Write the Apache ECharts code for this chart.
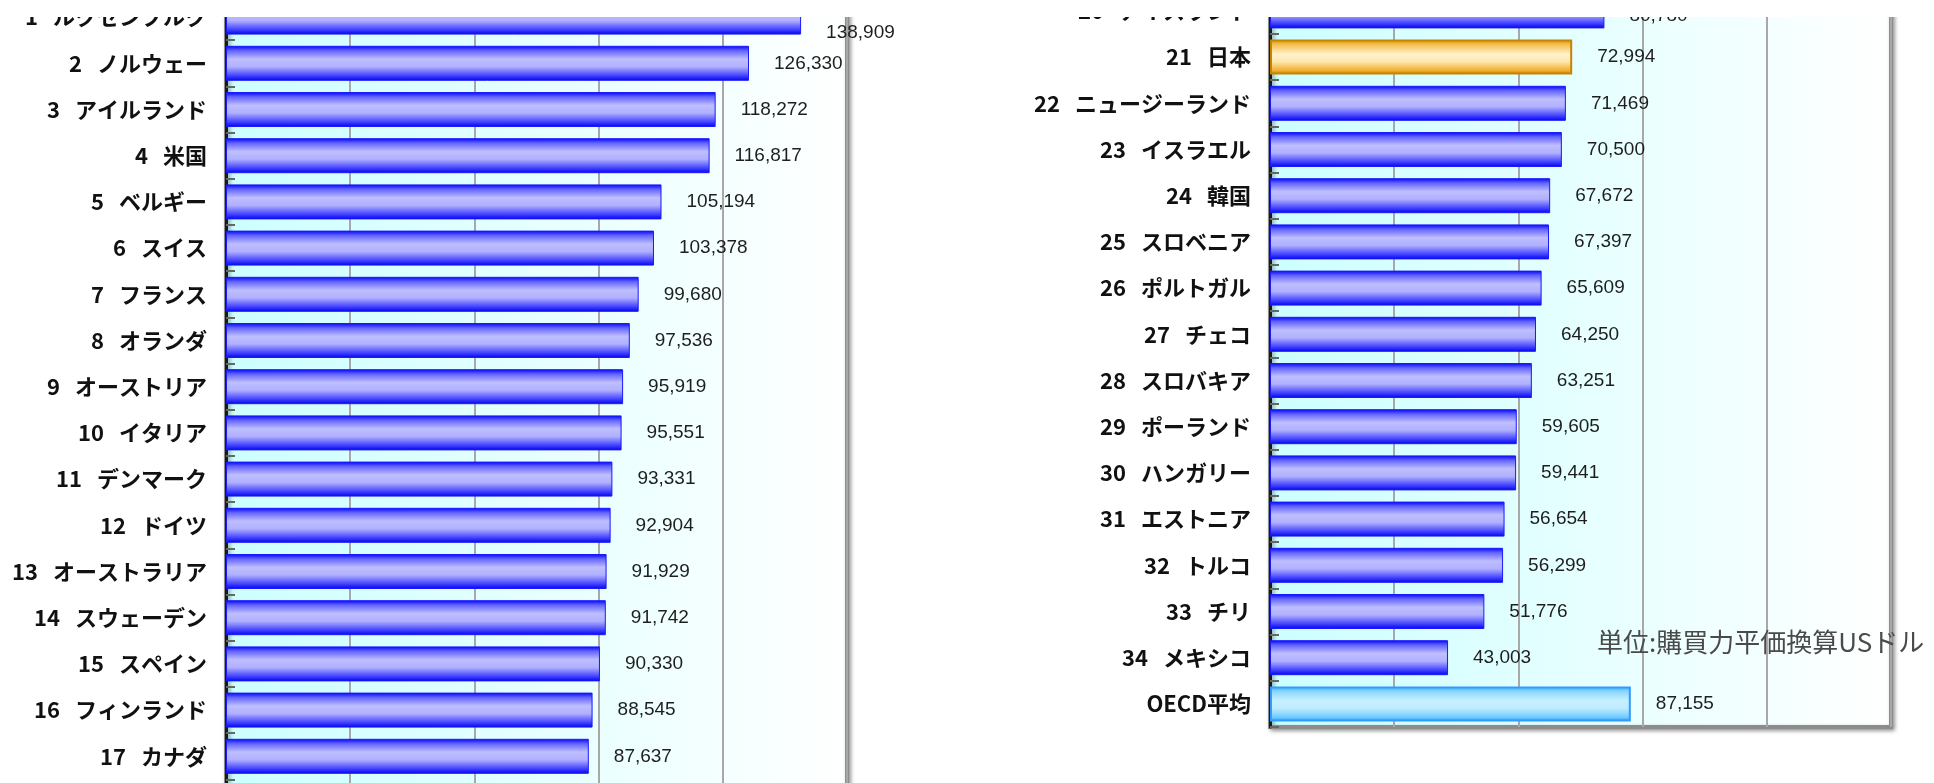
<!DOCTYPE html>
<html>
<head>
<meta charset="utf-8">
<script src="https://cdn.jsdelivr.net/npm/echarts@6/dist/echarts.min.js"></script>
<style>
  html, body { margin: 0; padding: 0; background: #fff; overflow: hidden; }
  #wrap { position: relative; width: 1934px; height: 783px; overflow: hidden; background: #fff; }
  #clip { position: absolute; left: 0; top: 17px; width: 1934px; height: 766px; overflow: hidden; }
  #chart { position: absolute; left: 0; top: -40px; width: 1934px; height: 880px; }
</style>
</head>
<body>
<div id="wrap"><div id="clip"><div id="chart"></div></div></div>
<script>
// Labour productivity per worker (PPP, USD) — ranks 1-17 and 20-34 plus OECD average
const leftRanks = [1, 2, 3, 4, 5, 6, 7, 8, 9, 10, 11, 12, 13, 14, 15, 16, 17, ''];
const leftNames = ['ルクセンブルク', 'ノルウェー', 'アイルランド', '米国', 'ベルギー', 'スイス', 'フランス', 'オランダ',
  'オーストリア', 'イタリア', 'デンマーク', 'ドイツ', 'オーストラリア', 'スウェーデン', 'スペイン', 'フィンランド', 'カナダ', ''];
const leftValues = [138909, 126330, 118272, 116817, 105194, 103378, 99680, 97536,
  95919, 95551, 93331, 92904, 91929, 91742, 90330, 88545, 87637, null];

const rightRanks = [20, 21, 22, 23, 24, 25, 26, 27, 28, 29, 30, 31, 32, 33, 34, ''];
const rightNames = ['アイスランド', '日本', 'ニュージーランド', 'イスラエル', '韓国', 'スロベニア', 'ポルトガル', 'チェコ',
  'スロバキア', 'ポーランド', 'ハンガリー', 'エストニア', 'トルコ', 'チリ', 'メキシコ', 'OECD平均'];
const rightValues = [80780, 72994, 71469, 70500, 67672, 67397, 65609, 64250,
  63251, 59605, 59441, 56654, 56299, 51776, 43003, 87155];

const axisMax = 150000;
const axisStep = 30000;
const unitText = '単位:購買力平価換算USドル';

const BAND = 46.2;
const JP_FONT = '"Noto Sans CJK JP", "Noto Sans", sans-serif';
const NUM_FONT = '"Liberation Sans", Arial, sans-serif';

function vGrad(stops) {
  return new echarts.graphic.LinearGradient(0, 0, 0, 1,
    stops.map(s => ({ offset: s[0], color: s[1] })));
}
const blueFill = vGrad([[0, '#0000ff'], [0.14, '#6464ff'], [0.38, '#bebeff'], [0.6, '#b0b0ff'], [0.86, '#4040ff'], [1, '#0000ee']]);
const goldFill = vGrad([[0, '#d89000'], [0.14, '#f4c050'], [0.42, '#fff2cc'], [0.62, '#ffe8b0'], [0.88, '#f0b030'], [1, '#c88000']]);
const skyFill = vGrad([[0, '#3aa8ff'], [0.14, '#8ad6ff'], [0.4, '#c6f0ff'], [0.62, '#c0ecff'], [0.88, '#70ccff'], [1, '#2a9cff']]);

const plotBg = new echarts.graphic.LinearGradient(0, 0, 1, 0, [
  { offset: 0, color: '#ccffff' }, { offset: 1, color: '#ffffff' }
]);

function styleFor(name) {
  if (name === '日本') return { color: goldFill, borderColor: '#c88400', borderWidth: 2 };
  if (name === 'OECD平均') return { color: skyFill, borderColor: '#2f9cff', borderWidth: 2 };
  return { color: blueFill, borderColor: '#1a1aff', borderWidth: 1 };
}

function items(names, values, labelShift) {
  return values.map((v, i) => {
    const it = { value: v, itemStyle: styleFor(names[i]) };
    if (labelShift[i]) it.label = { offset: [0, labelShift[i]] };
    return it;
  });
}

const gridCommon = {
  show: true,
  backgroundColor: plotBg,
  borderColor: '#8c8c8c',
  borderWidth: 4,
  shadowColor: 'rgba(0,0,0,0.35)',
  shadowBlur: 4,
  shadowOffsetX: 2,
  shadowOffsetY: 2,
  containLabel: false
};

function yAxisFor(gridIndex, names, ranks) {
  return {
    type: 'category',
    gridIndex,
    inverse: true,
    data: names,
    axisLine: { show: true, lineStyle: { color: '#1a1a1a', width: 3 } },
    axisTick: { show: true, inside: true, length: 9, lineStyle: { color: '#666', width: 2 } },
    axisLabel: {
      margin: 19,
      formatter: (val, idx) => ranks[idx] === '' && val === '' ? '' :
        (ranks[idx] === '' ? '{n|' + val + '}' : '{r|' + ranks[idx] + '}{n|' + val + '}'),
      rich: {
        r: { fontFamily: JP_FONT, fontSize: 22, fontWeight: 'bold', color: '#111', padding: [0, 15, 0, 0] },
        n: { fontFamily: JP_FONT, fontSize: 22, fontWeight: 'bold', color: '#111' }
      }
    },
    splitLine: { show: false }
  };
}

function xAxisFor(gridIndex) {
  return {
    type: 'value',
    gridIndex,
    min: 0,
    max: axisMax,
    interval: axisStep,
    axisLine: { show: false },
    axisTick: { show: false },
    axisLabel: { show: false },
    splitLine: { show: true, lineStyle: { color: '#a8a8a8', width: 2 } }
  };
}

const valueLabel = {
  show: true,
  position: 'right',
  distance: 25,
  fontFamily: NUM_FONT,
  fontSize: 19,
  color: '#1e1e1e',
  formatter: p => p.value == null ? '' : p.value.toLocaleString('en-US')
};

const leftShift = leftValues.map((v, i) => i === 0 ? 16 : 0);
const rightShift = rightValues.map((v, i) => i === 0 ? 5 : 0);

// chart canvas starts 23px above the visible strip
const leftTop = 17;
const rightBottom = 750;

const chart = echarts.init(document.getElementById('chart'), null, { renderer: 'canvas' });
chart.setOption({
  animation: false,
  backgroundColor: 'transparent',
  grid: [
    Object.assign({ left: 226, top: leftTop, width: 621, height: BAND * leftNames.length }, gridCommon),
    Object.assign({ left: 1270, top: rightBottom - BAND * rightNames.length, width: 621, height: BAND * rightNames.length }, gridCommon)
  ],
  xAxis: [xAxisFor(0), xAxisFor(1)],
  yAxis: [yAxisFor(0, leftNames, leftRanks), yAxisFor(1, rightNames, rightRanks)],
  series: [
    {
      type: 'bar', xAxisIndex: 0, yAxisIndex: 0, barWidth: 35,
      data: items(leftNames, leftValues, leftShift),
      label: valueLabel
    },
    {
      type: 'bar', xAxisIndex: 1, yAxisIndex: 1, barWidth: 35,
      data: items(rightNames, rightValues, rightShift),
      label: valueLabel
    }
  ],
  graphic: [{
    type: 'text',
    x: 1597,
    y: 665,
    z: 100,
    style: {
      text: unitText,
      fill: '#4a4a4a',
      font: '26px ' + JP_FONT,
      verticalAlign: 'middle'
    }
  }]
});
</script>
</body>
</html>
